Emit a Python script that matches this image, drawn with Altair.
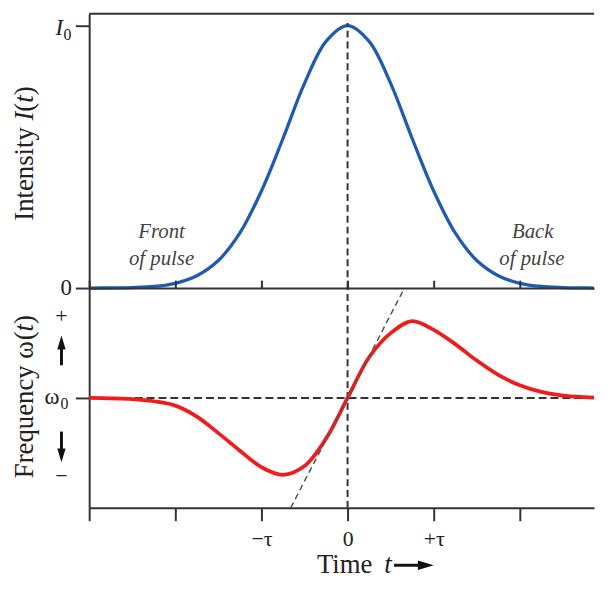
import altair as alt
import pandas as pd

# ---- data ----
t_vals = [-3.0, -2.75, -2.5, -2.25, -2.0, -1.75, -1.5, -1.25, -1.0, -0.75, -0.5, -0.25,
          0.0, 0.25, 0.5, 0.75, 1.0, 1.25, 1.5, 1.75, 2.0, 2.25, 2.5, 2.75, 2.86]
intensity = [0.0, 0.0005, 0.002, 0.006, 0.018, 0.047, 0.105, 0.21, 0.37, 0.57, 0.78, 0.94,
             1.0, 0.94, 0.78, 0.57, 0.37, 0.21, 0.105, 0.047, 0.018, 0.006, 0.002, 0.0005, 0.0]
frequency = [0.0, -0.003, -0.01, -0.03, -0.07, -0.17, -0.32, -0.48, -0.63, -0.70, -0.62, -0.37,
             0.0, 0.37, 0.59, 0.70, 0.62, 0.49, 0.34, 0.21, 0.115, 0.055, 0.022, 0.008, 0.004]
tangent_t = [-0.66, 0.66]
tangent_w = [-1.0, 1.0]
x_ticks = [-3, -2, -1, 0, 1, 2]
notes_text = ["Front", "of pulse", "Back", "of pulse"]
notes_t = [-2.16, -2.16, 2.15, 2.14]
notes_i = [0.215, 0.112, 0.215, 0.112]

FONT = "Liberation Serif"
W, H1, H2 = 510, 277, 222
xs = alt.Scale(domain=[-3, 2.862], nice=False, zero=False)
ys1 = alt.Scale(domain=[0, 1.045], nice=False, zero=False)
ys2 = alt.Scale(domain=[-1, 1], nice=False, zero=False)

df = pd.DataFrame({"t": t_vals, "I": intensity, "w": frequency})
one = pd.DataFrame({"a": [0]})


def label(text, x, y, size, style="normal", angle=0, align="left",
          baseline="alphabetic", color="#222"):
    return alt.Chart(one).mark_text(
        text=text, font=FONT, fontSize=size, fontStyle=style, angle=angle,
        align=align, baseline=baseline, color=color
    ).encode(x=alt.value(x), y=alt.value(y))


def head(x, y, shape, size=196):
    return alt.Chart(one).mark_point(
        shape=shape, filled=True, size=size, color="#111", opacity=1, strokeWidth=0
    ).encode(x=alt.value(x), y=alt.value(y))


label_expr = ("datum.value == -1 ? '−τ' : datum.value == 0 ? '0' : "
              "datum.value == 1 ? '+τ' : ''")

ax_y1 = alt.Axis(values=[0, 1], labelExpr="datum.value == 0 ? '0' : ''", tickSize=14,
                 labelPadding=4, labelFontSize=23, title=None, grid=False, minExtent=0)
ax_y2 = alt.Axis(values=[0], labels=False, tickSize=14, title=None, grid=False, minExtent=0)

# ---------------- top panel ----------------
blue = alt.Chart(df).mark_line(color="#1f5cb0", strokeWidth=3.3, interpolate="catmull-rom").encode(
    x=alt.X("t:Q", scale=xs, axis=alt.Axis(orient="bottom", values=x_ticks, labels=False,
                                          tickSize=8, title=None, grid=False, minExtent=0)),
    y=alt.Y("I:Q", scale=ys1, axis=ax_y1),
)
vtop = alt.Chart(pd.DataFrame({"t": [0], "I": [0], "b": [1.01]})).mark_rule(
    color="#333", strokeWidth=2, strokeDash=[7, 4]
).encode(
    x=alt.X("t:Q", scale=xs, axis=None),
    y=alt.Y("I:Q", scale=ys1, axis=ax_y1), y2="b:Q",
)
notes = alt.Chart(pd.DataFrame({"s": notes_text, "t": notes_t, "I": notes_i})).mark_text(
    font=FONT, fontSize=21, fontStyle="italic", color="#444"
).encode(
    x=alt.X("t:Q", scale=xs, axis=None), y=alt.Y("I:Q", scale=ys1, axis=ax_y1), text="s:N"
)
# top frame line of the upper panel and an invisible anchor fixing the drawing's corner
frame_top = alt.Chart(one).mark_rule(color="#333", strokeWidth=2).encode(
    x=alt.value(0), x2=alt.value(W), y=alt.value(0))
anchor = alt.Chart(one).mark_rule(strokeWidth=1, strokeOpacity=0).encode(
    x=alt.value(-81.5), x2=alt.value(-75), y=alt.value(-2.5))
top_texts = [
    label("Intensity", -57, 209, 27, angle=270),
    label("I", -57, 107.8, 27, style="italic", angle=270),
    label("(", -57, 98.8, 27, angle=270),
    label("t", -57, 89.8, 27, style="italic", angle=270),
    label(")", -57, 82.3, 27, angle=270),
    label("I", -34, 21, 23, style="italic"),
    label("0", -26, 26, 16),
]
top = alt.layer(blue, vtop, notes, frame_top, anchor, *top_texts).properties(
    width=W, height=H1)

# ---------------- bottom panel ----------------
hdash = alt.Chart(pd.DataFrame({"w": [0]})).mark_rule(
    color="#333", strokeWidth=2, strokeDash=[8, 4]
).encode(y=alt.Y("w:Q", scale=ys2, axis=ax_y2))
vbot = alt.Chart(pd.DataFrame({"t": [0], "w": [-1], "b": [1]})).mark_rule(
    color="#333", strokeWidth=2, strokeDash=[7, 4]
).encode(
    x=alt.X("t:Q", scale=xs, axis=alt.Axis(orient="top", values=x_ticks, labels=False,
                                          tickSize=8, title=None, grid=False, minExtent=0)),
    y=alt.Y("w:Q", scale=ys2, axis=ax_y2), y2="b:Q",
)
red = alt.Chart(df).mark_line(color="#f01c1c", strokeWidth=3.8, interpolate="catmull-rom").encode(
    x=alt.X("t:Q", scale=xs, axis=alt.Axis(orient="bottom", values=x_ticks, labelExpr=label_expr,
                                          tickSize=13, labelPadding=8, labelFontSize=22,
                                          title=None, grid=False, minExtent=0)),
    y=alt.Y("w:Q", scale=ys2, axis=ax_y2),
)
tangent = alt.Chart(pd.DataFrame({"t": tangent_t, "w": tangent_w})).mark_line(
    color="#555", strokeWidth=1.5, strokeDash=[6, 4]
).encode(x=alt.X("t:Q", scale=xs, axis=None), y=alt.Y("w:Q", scale=ys2, axis=ax_y2))

bot_texts = [
    label("Frequency", -57, 192, 27, angle=270),
    label("ω", -57, 71.3, 27, angle=270),
    label("(", -57, 52.8, 27, angle=270),
    label("t", -57, 43.8, 27, style="italic", angle=270),
    label(")", -57, 36.3, 27, angle=270),
    label("+", -28, 35, 22, align="center"),
    label("−", -28, 197, 22, align="center"),
    label("ω", -30, 117, 23, align="right"),
    label("0", -29, 122, 16),
    label("Time", 230, 288, 27),
    label("t", 298, 288, 27, style="italic"),
]
arrows = [
    alt.Chart(one).mark_rule(color="#111", strokeWidth=3).encode(
        x=alt.value(-28), y=alt.value(78), y2=alt.value(58)),
    head(-28, 55, "M0,-1L0.6,1L-0.6,1Z"),
    alt.Chart(one).mark_rule(color="#111", strokeWidth=3).encode(
        x=alt.value(-28), y=alt.value(145), y2=alt.value(166)),
    head(-28, 169, "M0,1L0.6,-1L-0.6,-1Z"),
    alt.Chart(one).mark_rule(color="#111", strokeWidth=3).encode(
        x=alt.value(308), x2=alt.value(336), y=alt.value(280)),
    head(340, 280, "M1,0L-1,-0.6L-1,0.6Z", size=256),
]
bottom = alt.layer(hdash, vbot, red, tangent, *bot_texts, *arrows).resolve_axis(
    x="independent").properties(width=W, height=H2)

chart = alt.vconcat(top, bottom, spacing=0, bounds="flush").properties(
    padding=0
).configure_view(
    stroke=None
).configure_axis(
    domainColor="#333", tickColor="#333", domainWidth=2, tickWidth=2,
    labelColor="#222", labelFont=FONT, titleFont=FONT
).configure_text(font=FONT)

chart.save("out.html", embed_options={"renderer": "svg", "actions": False})
